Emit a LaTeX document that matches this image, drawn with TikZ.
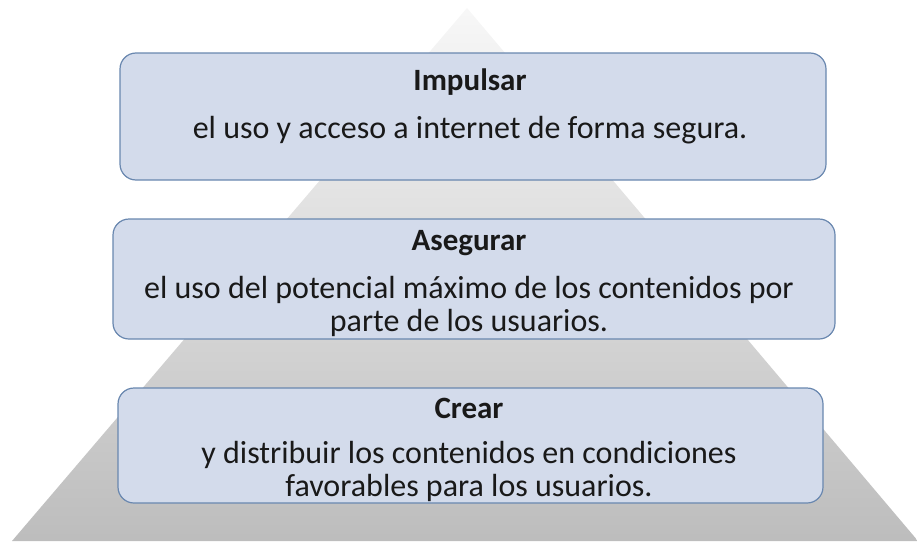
\documentclass[tikz,border=0pt]{standalone}
\usepackage{fontspec}
\setmainfont{Carlito}
\definecolor{boxfill}{RGB}{211, 219, 235}
\definecolor{boxline}{RGB}{105, 135, 175}
\definecolor{inktext}{RGB}{25, 25, 25}
\usetikzlibrary{positioning}

\begin{document}
\begin{tikzpicture}[
  x=1pt, y=-1pt,
  pbox/.style={draw=boxline, fill=boxfill, line width=1.2pt, rounded corners=16pt, minimum width=#1},
  ptitle/.style={font=\fontsize{31}{36}\selectfont\bfseries, text=inktext, inner sep=0pt},
  ptext/.style={font=\fontsize{32}{33}\selectfont, text=inktext, align=center, inner sep=0pt}
]
  \useasboundingbox (0,0) rectangle (917,541);
  % pyramid behind the boxes
  \coordinate (apex) at (467,8);
  \coordinate (baseleft) at (12,541);
  \coordinate (baseright) at (918,541);
  \shade[top color=black!3, bottom color=black!26] (apex) -- (baseleft) -- (baseright) -- cycle;

  \node[pbox=706pt, minimum height=127pt] (impulsarbox) at (473,116.5) {};
  \node[ptitle] (impulsartitle) at (470,82) {Impulsar};
  \node[ptext] (impulsartext) at (470,130) {el uso y acceso a internet de forma segura.};

  \node[pbox=722pt, minimum height=120pt] (asegurarbox) at (474,279) {};
  \node[ptitle] (asegurartitle) at (469,243) {Asegurar};
  \node[ptext] (asegurartext) at (469,306) {el uso del potencial máximo de los contenidos por\\ parte de los usuarios.};

  \node[pbox=705pt, minimum height=115pt] (crearbox) at (470.5,445.5) {};
  \node[ptitle] (creartitle) at (469,408) {Crear};
  \node[ptext] (creartext) at (469,471) {y distribuir los contenidos en condiciones\\ favorables para los usuarios.};
\end{tikzpicture}
\end{document}
